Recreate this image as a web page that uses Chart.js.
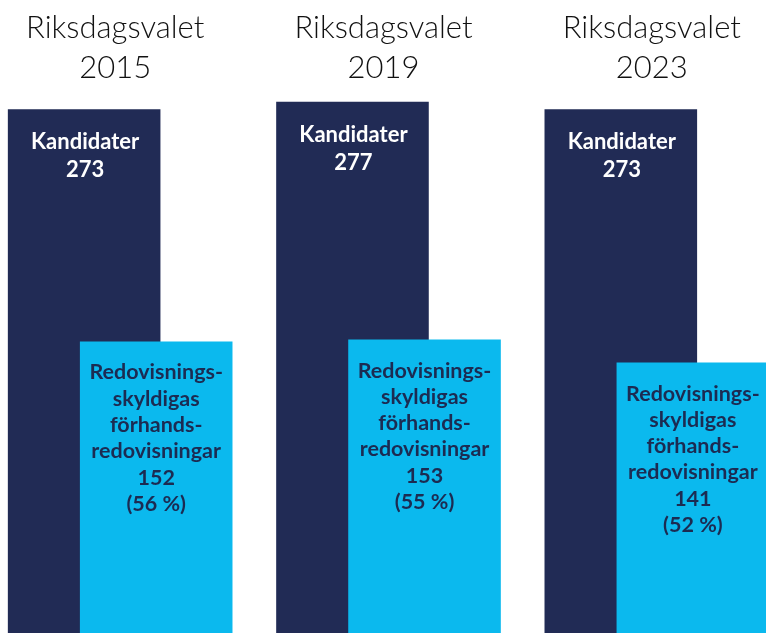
<!DOCTYPE html>
<html>
<head>
<meta charset="utf-8">
<script src="https://cdn.jsdelivr.net/npm/chart.js@4"></script>
<style>
  html, body { margin: 0; padding: 0; background: #fff; overflow: hidden; }
  #wrap { position: absolute; left: -14px; top: 0; width: 805px; height: 633px; }
</style>
</head>
<body>
<div id="wrap"><canvas id="chart"></canvas></div>
<script>
// values
const years = ['2015', '2019', '2023'];
const candidates = [273, 277, 273];
const declarations = [152, 153, 141];
const shares = ['56 %', '55 %', '52 %'];

const candidateLabel = ['Kandidater'];
const declarationLabel = ['Redovisnings-', 'skyldigas', 'förhands-', 'redovisningar'];
const titlePrefix = 'Riksdagsvalet';

const navy = '#212b55';
const cyan = '#0bb9ee';

// draw datasets first-to-last so the light bar overlaps the dark one
let ownDraw = false;
const orderPlugin = {
    id: 'drawOrder',
    beforeDatasetDraw() {
        return ownDraw;
    },
    afterDatasetsDraw(chart) {
        ownDraw = true;
        for (let i = 0; i < chart.data.datasets.length; i++) {
            chart.getDatasetMeta(i).controller.draw();
        }
        ownDraw = false;
    }
};

// titles above each group and the texts inside the bars
const textPlugin = {
    id: 'barTexts',
    afterDatasetsDraw(chart) {
        const ctx = chart.ctx;
        const xScale = chart.scales.x;
        ctx.save();
        ctx.textAlign = 'center';
        ctx.textBaseline = 'alphabetic';

        years.forEach((year, i) => {
            const cx = xScale.getPixelForValue(i) - 5;
            ctx.fillStyle = '#111';
            ctx.font = '300 31px Lato';
            ctx.fillText(titlePrefix, cx, 38);
            ctx.fillText(year, cx, 78);
        });

        const darkBars = chart.getDatasetMeta(0).data;
        darkBars.forEach((bar, i) => {
            ctx.fillStyle = '#fff';
            ctx.font = 'bold 22px Lato';
            const lines = candidateLabel.concat([String(candidates[i])]);
            lines.forEach((t, k) => ctx.fillText(t, bar.x + 1, bar.y + 40 + k * 28));
        });

        const lightBars = chart.getDatasetMeta(1).data;
        lightBars.forEach((bar, i) => {
            ctx.fillStyle = '#1c2b52';
            ctx.font = 'bold 21.5px Lato';
            const lines = declarationLabel.concat([String(declarations[i]), '(' + shares[i] + ')']);
            lines.forEach((t, k) => ctx.fillText(t, bar.x, bar.y + 38 + k * 26.3));
        });
        ctx.restore();
    }
};

new Chart(document.getElementById('chart'), {
    type: 'bar',
    data: {
        labels: years,
        datasets: [
            {
                label: 'Kandidater',
                data: candidates,
                backgroundColor: navy,
                categoryPercentage: 0.537,
                barPercentage: 2.118
            },
            {
                label: 'Redovisningsskyldigas förhandsredovisningar',
                data: declarations,
                backgroundColor: cyan,
                categoryPercentage: 0.537,
                barPercentage: 2.118
            }
        ]
    },
    options: {
        responsive: true,
        maintainAspectRatio: false,
        animation: false,
        layout: { padding: 0 },
        plugins: {
            legend: { display: false },
            tooltip: { enabled: false }
        },
        scales: {
            x: { display: false },
            y: { display: false, min: 0, max: 330 }
        }
    },
    plugins: [orderPlugin, textPlugin]
});
</script>
</body>
</html>
